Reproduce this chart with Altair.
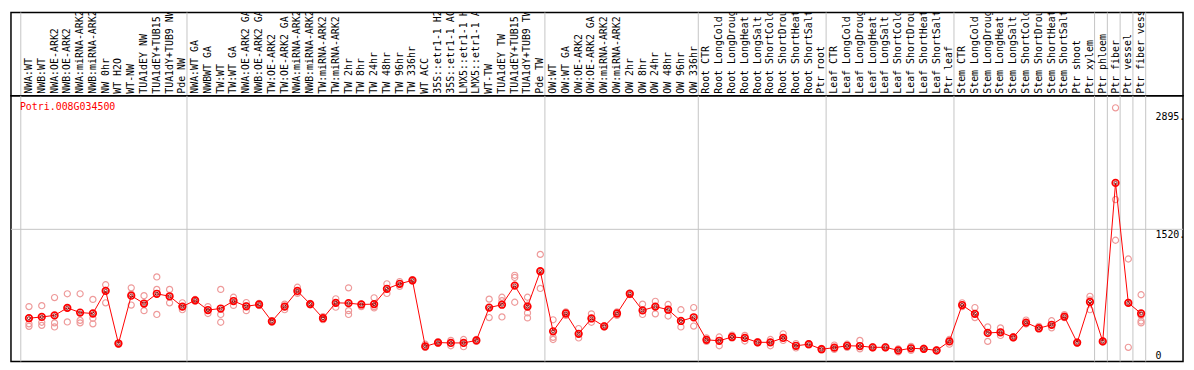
import altair as alt
import pandas as pd

gene = "Potri.008G034500"

categories = [
    "NWA:WT", "NWB:WT", "NWA:OE-ARK2", "NWB:OE-ARK2", "NWA:miRNA-ARK2", "NWB:miRNA-ARK2",
    "NW 0hr", "WT H2O", "WT-NW", "TUA1dEY NW", "TUA1dEY+TUB15 NW", "TUA1dY+TUB9 NW", "Pde NW",
    "NWA:WT GA", "NWBWT GA", "TW:WT", "TW:WT GA", "NWA:OE-ARK2 GA", "NWB:OE-ARK2 GA",
    "TW:OE-ARK2", "TW:OE-ARK2 GA", "NWA:miRNA-ARK2 GA", "NWB:miRNA-ARK2 GA", "TW:miRNA-ARK2",
    "TW:miRNA-ARK2 GA", "TW 2hr", "TW 8hr", "TW 24hr", "TW 48hr", "TW 96hr", "TW 336hr",
    "WT ACC", "35S::etr1-1 H2O", "35S::etr1-1 ACC", "LMX5::etr1-1 H2O", "LMX5::etr1-1 ACC",
    "WT-TW", "TUA1dEY TW", "TUA1dEY+TUB15 TW", "TUA1dY+TUB9 TW", "Pde TW",
    "OW:WT", "OW:WT GA", "OW:OE-ARK2", "OW:OE-ARK2 GA", "OW:miRNA-ARK2", "OW:miRNA-ARK2 GA",
    "OW 2hr", "OW 8hr", "OW 24hr", "OW 48hr", "OW 96hr", "OW 336hr",
    "Root CTR", "Root LongCold", "Root LongDrought", "Root LongHeat", "Root LongSalt",
    "Root ShortCold", "Root ShortDrought", "Root ShortHeat", "Root ShortSalt", "Ptr root",
    "Leaf CTR", "Leaf LongCold", "Leaf LongDrought", "Leaf LongHeat", "Leaf LongSalt",
    "Leaf ShortCold", "Leaf ShortDrought", "Leaf ShortHeat", "Leaf ShortSalt", "Ptr leaf",
    "Stem CTR", "Stem LongCold", "Stem LongDrought", "Stem LongHeat", "Stem LongSalt",
    "Stem ShortCold", "Stem ShortDrought", "Stem ShortHeat", "Stem ShortSalt", "Ptr shoot",
    "Ptr xylem", "Ptr phloem", "Ptr fiber", "Ptr vessel", "Ptr fiber vessel",
]

means = [
    487, 502, 520, 607, 553, 542, 804, 193, 749, 658, 771, 742, 622,
    695, 582, 600, 687, 626, 647, 451, 622, 804, 651, 487, 666, 662, 647, 651, 829, 887,
    927, 160, 204, 200, 200, 229, 611, 644, 866, 622, 1033,
    335, 542, 306, 484, 393, 542, 771, 578, 622, 586, 455, 498,
    236, 225, 269, 258, 207, 207, 258, 167, 185, 127,
    145, 167, 164, 149, 149, 113, 138, 131, 113, 218,
    640, 538, 316, 324, 265, 436, 371, 411, 506, 204, 676,
    218, 2059, 665, 542,
]

replicates = [
    [622, 422, 393], [633, 440, 404], [727, 433, 386], [771, 606, 444], [771, 462, 433],
    [706, 487, 422], [876, 811, 666], [185, 193, 200], [840, 767, 640], [749, 658, 575],
    [967, 822, 531], [822, 740, 666], [666, 622, 586],
    [705, 695, 685], [622, 582, 542], [822, 531, 440], [731, 690, 636], [669, 630, 575],
    [660, 647, 635], [460, 451, 442], [651, 622, 586], [847, 790, 775], [660, 651, 642],
    [505, 487, 470], [713, 666, 615], [840, 575, 531], [650, 647, 622], [724, 622, 607],
    [887, 829, 775], [913, 887, 858], [935, 927, 918], [185, 149, 150], [215, 204, 195],
    [229, 200, 167], [240, 200, 156], [240, 229, 218], [709, 611, 495], [731, 690, 502],
    [986, 960, 673], [731, 640, 549, 491], [1229, 1033, 833],
    [469, 265, 240], [560, 542, 520], [367, 306, 258], [538, 484, 440], [400, 393, 386],
    [560, 542, 520], [780, 771, 762], [651, 578, 531], [684, 622, 538], [647, 586, 513],
    [586, 455, 386], [611, 498, 396],
    [258, 236, 218], [269, 225, 167], [290, 269, 255], [287, 258, 222], [215, 207, 200],
    [240, 207, 167], [306, 258, 229], [193, 167, 142], [193, 185, 178], [135, 127, 120],
    [175, 145, 124], [185, 167, 149], [229, 164, 131], [156, 149, 142], [156, 149, 142],
    [131, 113, 95], [160, 138, 113], [138, 131, 124], [120, 113, 106], [240, 218, 185],
    [666, 640, 622], [611, 538, 495], [386, 316, 218], [375, 324, 287], [272, 265, 258],
    [466, 436, 420], [393, 371, 360], [458, 411, 375], [530, 506, 495], [211, 204, 197],
    [742, 700, 586],
    [225, 218, 211], [2932, 1866, 1393], [1175, 671, 149], [760, 520, 455, 433],
]

group_starts = [1, 14, 42, 54, 64, 74, 85, 86, 87, 88, 89]
grid_values = [1520]
tick_values = [2895, 1520]
tick_labels = ["2895.", "1520."]
zero_label = "0"

# layout
W = 1182
HH = 84
PH = 268
GRID_OFFSET = 0.64
X_DOMAIN = [-0.408, 91.28]
Y_DOMAIN = [-16, 3072]
FONT = "DejaVu Sans Mono"
GRID = "#c4c4c4"

xscale = alt.Scale(domain=X_DOMAIN, nice=False, zero=False)
yscale = alt.Scale(domain=Y_DOMAIN, nice=False, zero=False)

mean_df = pd.DataFrame({"idx": list(range(1, len(categories) + 1)),
                        "label": categories, "value": means})
rep_df = pd.DataFrame([{"idx": i + 1, "value": v}
                       for i, reps in enumerate(replicates) for v in reps])
vgrid_df = pd.DataFrame({"pos": [s - GRID_OFFSET for s in group_starts]})
hgrid_df = pd.DataFrame({"v": grid_values})
tick_df = pd.DataFrame({"v": tick_values, "t": tick_labels})

X = lambda f: alt.X(f, scale=xscale, axis=None)
Y = lambda f: alt.Y(f, scale=yscale, axis=None)

vgrid = alt.Chart(vgrid_df).mark_rule(color=GRID, strokeWidth=1).encode(x=X("pos:Q"))

header_labels = alt.Chart(mean_df).mark_text(
    angle=270, align="left", baseline="middle", font=FONT, fontSize=10,
    color="black", clip=True
).encode(x=X("idx:Q"), y=alt.value(HH - 2), text="label:N")

header = alt.layer(vgrid, header_labels).properties(width=W, height=HH)

hgrid = alt.Chart(hgrid_df).mark_rule(color=GRID, strokeWidth=1).encode(y=Y("v:Q"))

reps = alt.Chart(rep_df).mark_point(
    shape="circle", filled=False, color="#ee9a9a", size=38, strokeWidth=1.2, opacity=1
).encode(x=X("idx:Q"), y=Y("value:Q"))

line = alt.Chart(mean_df).mark_line(color="#ff0000", strokeWidth=1).encode(
    x=X("idx:Q"), y=Y("value:Q"))

mean_pts = alt.Chart(mean_df).mark_point(
    shape="circle", filled=False, color="#ff0000", size=44, strokeWidth=1.7, opacity=1
).encode(x=X("idx:Q"), y=Y("value:Q"))

mean_core = alt.Chart(mean_df).mark_point(
    shape="circle", filled=False, color="#700000", size=10, strokeWidth=0.8, opacity=1
).encode(x=X("idx:Q"), y=Y("value:Q"))

tick_text = alt.Chart(tick_df).mark_text(
    align="left", baseline="top", dy=1, font=FONT, fontSize=10, color="black", clip=True
).encode(x=alt.value(W * 1163 / 1191), y=Y("v:Q"), text="t:N")

zero_text = alt.Chart(pd.DataFrame({"t": [zero_label]})).mark_text(
    align="left", baseline="bottom", font=FONT, fontSize=10, color="black"
).encode(x=alt.value(W * 1163 / 1191), y=alt.value(PH - 1), text="t:N")

gene_text = alt.Chart(pd.DataFrame({"t": [gene]})).mark_text(
    align="left", baseline="middle", font=FONT, fontSize=10, color="#ff0000"
).encode(x=alt.value(9), y=alt.value(11), text="t:N")

plot = alt.layer(vgrid, hgrid, reps, line, mean_pts, mean_core, tick_text,
                 zero_text, gene_text).properties(width=W, height=PH)

chart = alt.vconcat(header, plot, spacing=0, bounds="flush").properties(
    padding={"left": 1, "top": 1, "right": 1, "bottom": 1},
    background="white",
).configure_view(stroke="black", strokeWidth=1.5)

chart.save("out.html", embed_options={"renderer": "svg", "actions": False})
